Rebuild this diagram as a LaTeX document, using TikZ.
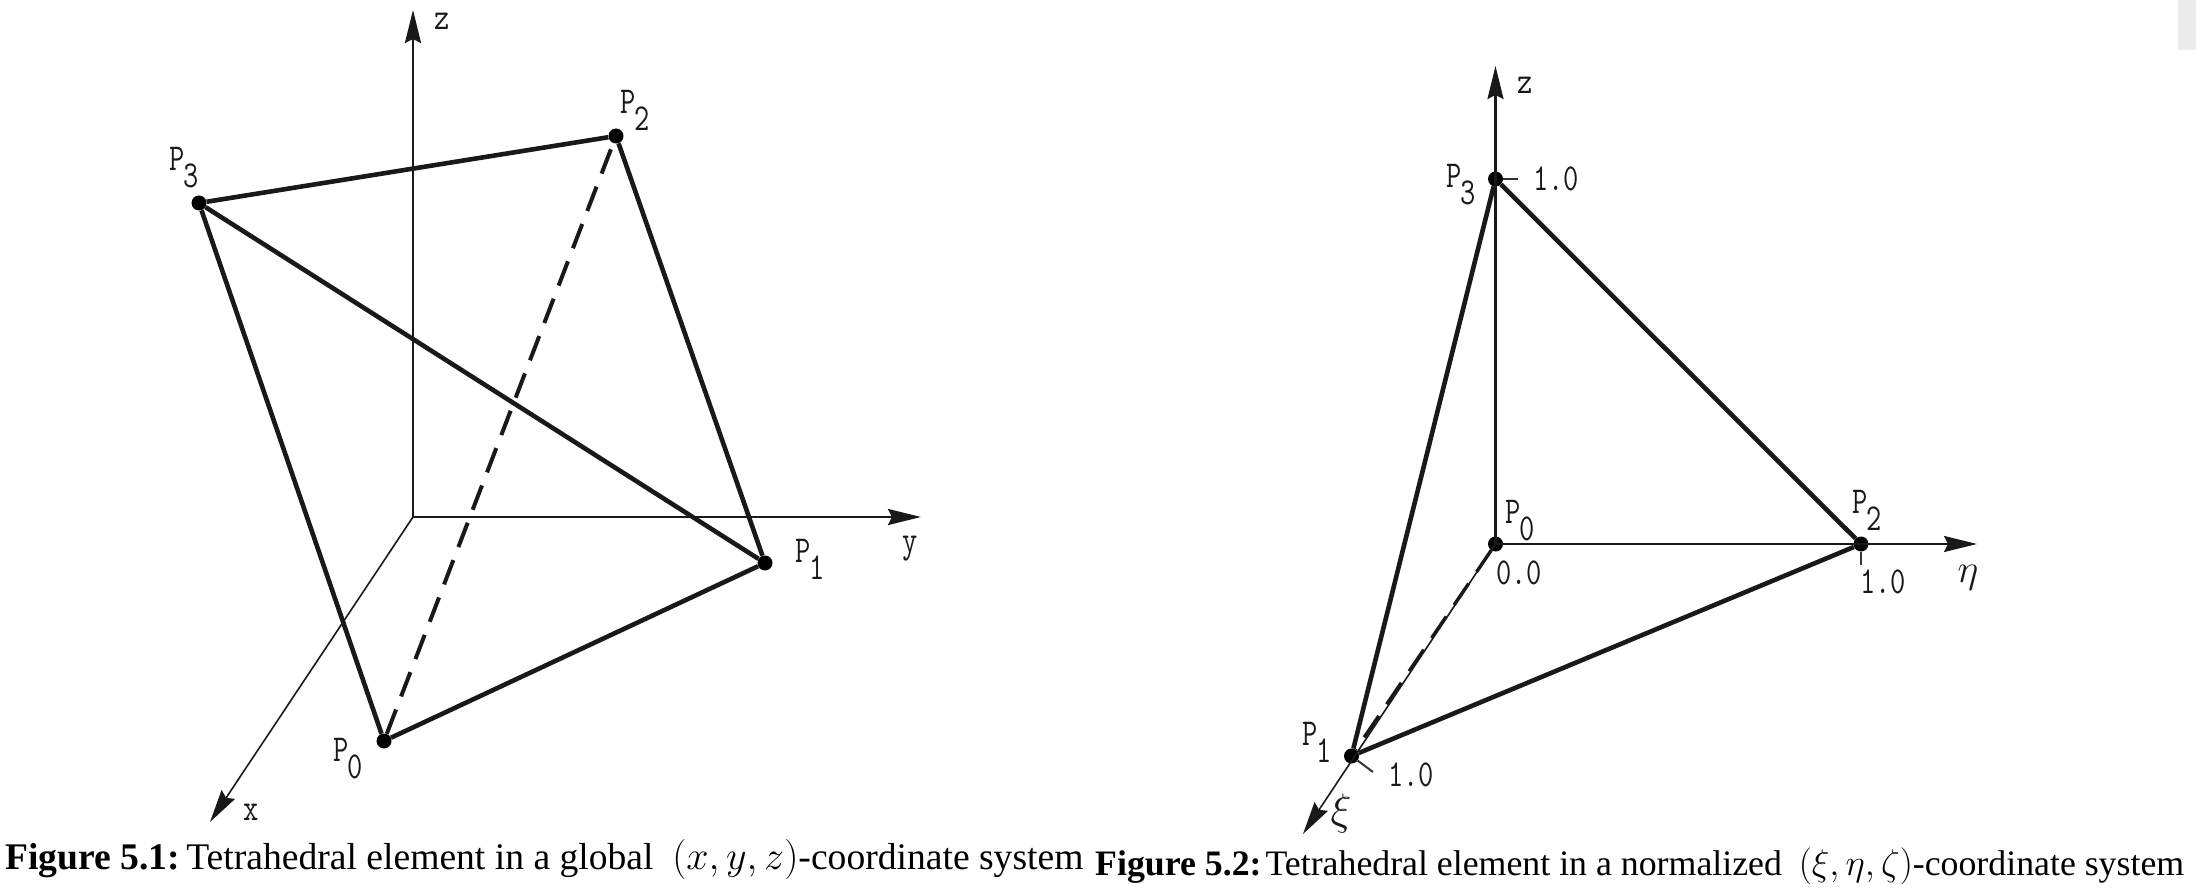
\documentclass[tikz,border=0pt]{standalone}
\usepackage{fix-cm}
\usepackage{fontspec}
\setmainfont{Liberation Serif}
\setmonofont{Latin Modern Mono}[FakeStretch=0.78]
\usetikzlibrary{arrows.meta}
\newcommand\Pnum[1]{P\kern-2pt\raisebox{-17pt}{#1}}
\tikzset{
  vtx/.style={circle,fill=black,inner sep=0pt,minimum size=15pt},
  edgeline/.style={line width=4.6pt,draw=black!90},
  dashline/.style={line width=4pt,draw=black!90,dash pattern=on 26pt off 14pt},
  axisline/.style={line width=2.4pt,draw=black!90,-{Stealth[length=33pt,width=16pt,inset=4pt]}},
  tickline/.style={line width=2pt,draw=black!80},
  lbl/.style={font=\fontsize{38}{40}\selectfont\ttfamily,text=black!90,inner sep=0pt},
  capleft/.style={font=\fontsize{37.6}{40}\selectfont,text=black,inner sep=0pt,anchor=base west},
  capright/.style={font=\fontsize{35.8}{40}\selectfont,text=black,inner sep=0pt,anchor=base west}
}
\begin{document}
\begin{tikzpicture}[x=1pt,y=-1pt]
\useasboundingbox (0,0) rectangle (2196,890);
\fill[black!8] (2178,0) rectangle (2196,50);
% --- left figure
\coordinate (lO) at (413,517);
\coordinate (lZ) at (413,10);
\coordinate (lY) at (921,517);
\coordinate (lX) at (210,822);
\draw[axisline] (lO) -- (lZ);
\draw[axisline] (lO) -- (lY);
\draw[axisline,line width=1.6pt] (lO) -- (lX);
\node[vtx] (lP0) at (384,741) {};
\node[vtx] (lP1) at (765,563) {};
\node[vtx] (lP2) at (616,136) {};
\node[vtx] (lP3) at (199,203) {};
\draw[dashline] (lP0) -- (lP2);
\draw[edgeline] (lP0) -- (lP1) (lP0) -- (lP3) (lP1) -- (lP2) (lP1) -- (lP3) (lP2) -- (lP3);
\node[lbl] (lzl) at (442,21) {z};
\node[lbl] (lyl) at (910,549) {y};
\node[lbl] (lxl) at (251,812) {x};
\node[lbl] (lp0l) at (348,759) {\Pnum{0}};
\node[lbl] (lp1l) at (810,559) {\Pnum{1}};
\node[lbl] (lp2l) at (635,110) {\Pnum{2}};
\node[lbl] (lp3l) at (184,168) {\Pnum{3}};
\node[capleft] (lcap) at (5,869) {\textbf{Figure 5.1:}\kern-3pt\ Tetrahedral element in a global\ \ {\fontsize{40}{40}\selectfont$(x,y,z)$}-coordinate system};
% --- right figure
\coordinate (rZ) at (1495.5,66);
\coordinate (rE) at (1977,544);
\coordinate (rX) at (1303,834);
\node[vtx] (rP0) at (1495.5,544) {};
\node[vtx] (rP1) at (1351.5,756) {};
\node[vtx] (rP2) at (1861,544) {};
\node[vtx] (rP3) at (1495.5,179) {};
\draw[axisline] (rP0.center) -- (rZ);
\draw[axisline] (rP0.center) -- (rE);
\draw[axisline,line width=1.6pt] (rP0.center) -- (rX);
\draw[dashline,line width=3.4pt] (rP0) -- (rP1);
\draw[edgeline] (rP1) -- (rP2) (rP1) -- (rP3) (rP2) -- (rP3);
\coordinate (rT3) at (1518,179);
\coordinate (rT2) at (1861,565);
\coordinate (rT1) at (1373,772);
\draw[tickline] (rP3) -- (rT3);
\draw[tickline] (rP2) -- (rT2);
\draw[tickline] (rP1) -- (rT1);
\node[lbl] (rzl) at (1525,85) {z};
\node[lbl] (r3l) at (1461,185) {\Pnum{3}};
\node[lbl] (rv3) at (1556,179) {1.0};
\node[lbl] (r0l) at (1520,521) {\Pnum{0}};
\node[lbl] (rv0) at (1519,573) {0.0};
\node[lbl] (r2l) at (1867,510) {\Pnum{2}};
\node[lbl] (rv2) at (1883,582) {1.0};
\node[lbl,font=\fontsize{40}{40}\selectfont] (retal) at (1968,578) {$\eta$};
\node[lbl] (r1l) at (1317,742) {\Pnum{1}};
\node[lbl] (rv1) at (1411,775) {1.0};
\node[lbl,font=\fontsize{44}{44}\selectfont] (rxil) at (1341,813) {$\xi$};
\node[capright] (rcap) at (1095,875) {\textbf{Figure 5.2:}\kern-5pt\ Tetrahedral element in a normalized\kern-1pt\ \ {\fontsize{37}{40}\selectfont$(\xi,\eta,\zeta)$}-coordinate system};
\end{tikzpicture}
\end{document}
